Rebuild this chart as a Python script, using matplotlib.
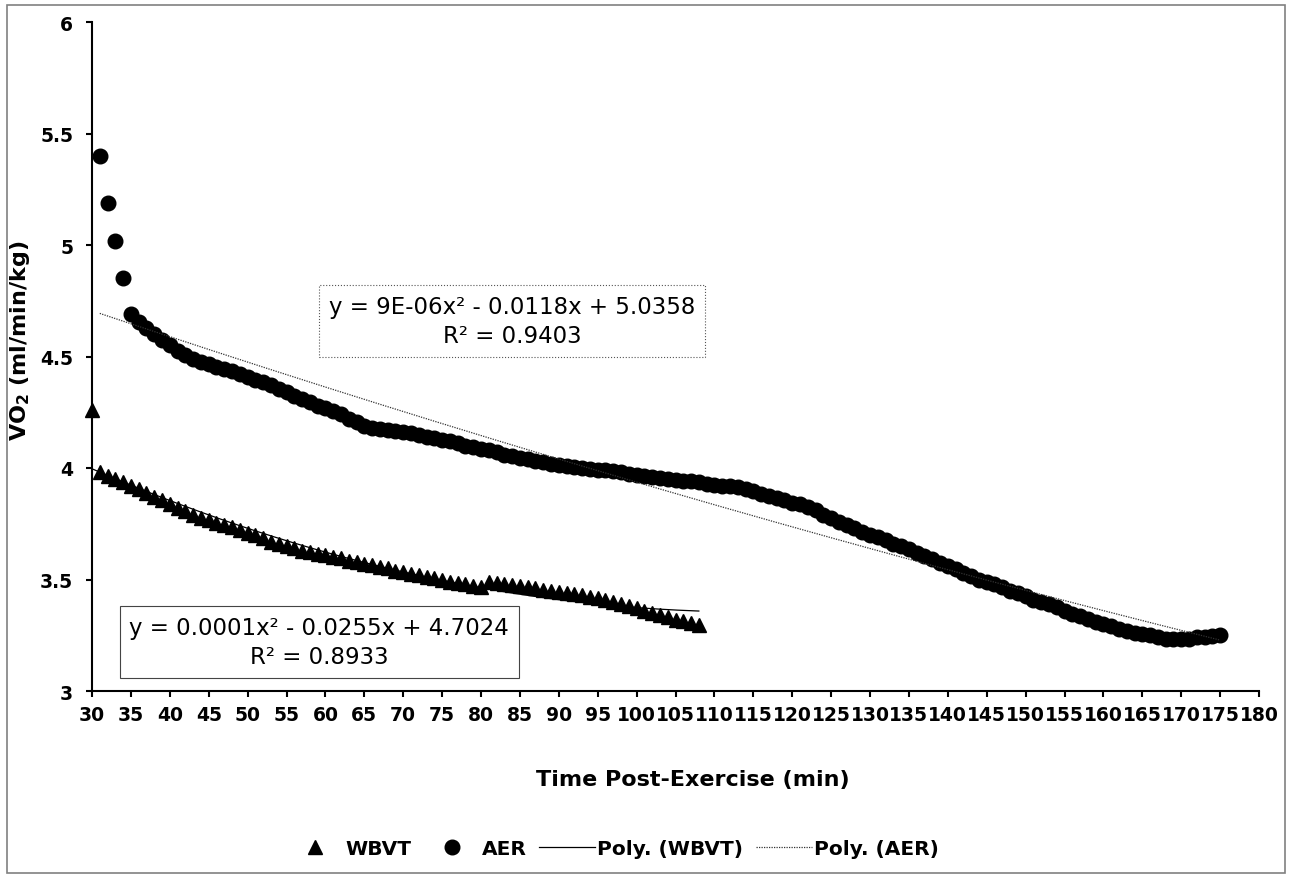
import numpy as np
import matplotlib
matplotlib.use('Agg')
import matplotlib.pyplot as plt
from matplotlib.lines import Line2D
from matplotlib.patches import Rectangle
from matplotlib.ticker import FuncFormatter

# minutes post-exercise
wbvt_t = list(range(30, 109))
wbvt_vo2 = [4.26, 3.98, 3.965, 3.95, 3.935, 3.92, 3.905, 3.89, 3.87, 3.855,
            3.84, 3.82, 3.805, 3.79, 3.775, 3.765, 3.755, 3.745, 3.735, 3.72,
            3.71, 3.70, 3.685, 3.67, 3.66, 3.65, 3.64, 3.63, 3.625, 3.615,
            3.61, 3.60, 3.595, 3.585, 3.58, 3.57, 3.565, 3.555, 3.55, 3.54,
            3.535, 3.525, 3.52, 3.51, 3.505, 3.50, 3.49, 3.485, 3.48, 3.47,
            3.465, 3.49, 3.485, 3.48, 3.475, 3.47, 3.465, 3.46, 3.455, 3.45,
            3.445, 3.44, 3.435, 3.43, 3.42, 3.415, 3.41, 3.40, 3.39, 3.38,
            3.37, 3.36, 3.35, 3.34, 3.33, 3.32, 3.315, 3.305, 3.295]

aer_t = list(range(31, 176))
aer_vo2 = [5.40, 5.19, 5.02, 4.85, 4.69, 4.655, 4.63, 4.60, 4.575, 4.55,
           4.525, 4.505, 4.49, 4.475, 4.465, 4.455, 4.445, 4.435, 4.42, 4.41,
           4.395, 4.385, 4.37, 4.355, 4.34, 4.325, 4.31, 4.295, 4.28, 4.27,
           4.255, 4.24, 4.22, 4.205, 4.19, 4.18, 4.175, 4.17, 4.165, 4.16,
           4.155, 4.15, 4.14, 4.135, 4.125, 4.12, 4.11, 4.10, 4.095, 4.085,
           4.08, 4.07, 4.06, 4.055, 4.045, 4.04, 4.03, 4.025, 4.02, 4.015,
           4.01, 4.005, 4.00, 3.995, 3.99, 3.99, 3.985, 3.98, 3.975, 3.97,
           3.965, 3.96, 3.955, 3.95, 3.945, 3.94, 3.94, 3.935, 3.93, 3.925,
           3.92, 3.92, 3.915, 3.905, 3.895, 3.885, 3.875, 3.865, 3.855, 3.845,
           3.84, 3.825, 3.81, 3.79, 3.775, 3.76, 3.745, 3.73, 3.715, 3.70,
           3.69, 3.675, 3.66, 3.65, 3.635, 3.62, 3.605, 3.59, 3.575, 3.56,
           3.545, 3.53, 3.515, 3.50, 3.49, 3.48, 3.465, 3.45, 3.44, 3.425,
           3.41, 3.40, 3.39, 3.375, 3.36, 3.345, 3.335, 3.325, 3.31, 3.30,
           3.29, 3.28, 3.27, 3.26, 3.255, 3.25, 3.24, 3.235, 3.235, 3.235,
           3.235, 3.24, 3.24, 3.245, 3.25]

wbvt_eq = 'y = 0.0001x² - 0.0255x + 4.7024\nR² = 0.8933'
aer_eq = 'y = 9E-06x² - 0.0118x + 5.0358\nR² = 0.9403'

W, H = 1291, 879
fig = plt.figure(figsize=(W / 100, H / 100), dpi=100)
ax = fig.add_axes([92 / W, 1 - 692 / H, (1259 - 92) / W, (692 - 23) / H])

ax.plot(wbvt_t, wbvt_vo2, ls='none', marker='^', ms=10.5, color='black',
        clip_on=False, zorder=3)
ax.plot(aer_t, aer_vo2, ls='none', marker='o', ms=10.5, color='black',
        clip_on=False, zorder=3)

# 2nd order polynomial trendlines
cw = np.polyfit(wbvt_t, wbvt_vo2, 2)
xw = np.linspace(wbvt_t[0], wbvt_t[-1], 200)
ax.plot(xw, np.polyval(cw, xw), color='black', lw=0.9, zorder=4)
ca = np.polyfit(aer_t, aer_vo2, 2)
xa = np.linspace(aer_t[0], aer_t[-1], 300)
ax.plot(xa, np.polyval(ca, xa), color='#333333', lw=0.9, ls=(0, (1, 1)), zorder=4)

ax.set_xlim(30, 180)
ax.set_ylim(3, 6)
ax.set_xticks(range(30, 181, 5))
ax.set_yticks([3, 3.5, 4, 4.5, 5, 5.5, 6])
ax.yaxis.set_major_formatter(FuncFormatter(lambda v, p: '%g' % v))
for s in ['top', 'right']:
    ax.spines[s].set_visible(False)
for s in ['left', 'bottom']:
    ax.spines[s].set_linewidth(1.5)
ax.tick_params(direction='out', length=4, width=1.5, labelsize=13.5)
ax.tick_params(axis='x', pad=6)
ax.tick_params(axis='y', pad=9.5)
for lbl in ax.get_xticklabels() + ax.get_yticklabels():
    lbl.set_fontweight('bold')

fig.text(20 / W, 1 - 341 / H, r'VO$_{\bf 2}$ (ml/min/kg)', rotation=90,
         ha='center', va='center', fontsize=16, fontweight='bold')
fig.text(693 / W, 1 - 780 / H, 'Time Post-Exercise (min)',
         ha='center', va='center', fontsize=16, fontweight='bold')

fig.text(512 / W, 1 - 322 / H, aer_eq, ha='center', va='center',
         multialignment='center', fontsize=16.5, linespacing=1.32,
         bbox=dict(boxstyle='square,pad=0.42', fc='white', ec='#555555',
                   lw=0.8, ls=':'))
fig.text(319 / W, 1 - 643 / H, wbvt_eq, ha='center', va='center',
         multialignment='center', fontsize=16.5, linespacing=1.32,
         bbox=dict(boxstyle='square,pad=0.42', fc='white', ec='#444444',
                   lw=0.8))

handles = [
    Line2D([], [], ls='none', marker='^', ms=10.5, color='black'),
    Line2D([], [], ls='none', marker='o', ms=10.5, color='black'),
    Line2D([], [], color='black', lw=0.9),
    Line2D([], [], color='#333333', lw=0.9, ls=(0, (1, 1))),
]
labels = ['WBVT', 'AER', 'Poly. (WBVT)', 'Poly. (AER)']
fig.legend(handles, labels, loc='center', bbox_to_anchor=(613 / W, 1 - 850 / H),
           ncol=4, frameon=False, handlelength=2.8, handletextpad=0.1,
           columnspacing=0.6, prop={'size': 14.5, 'weight': 'bold'})

fig.patches.append(Rectangle((7 / W, 5 / H), 1 - 13 / W, 1 - 11 / H,
                             transform=fig.transFigure, fill=False,
                             ec='#808080', lw=1.2))

fig.savefig('out.png', dpi=100)
